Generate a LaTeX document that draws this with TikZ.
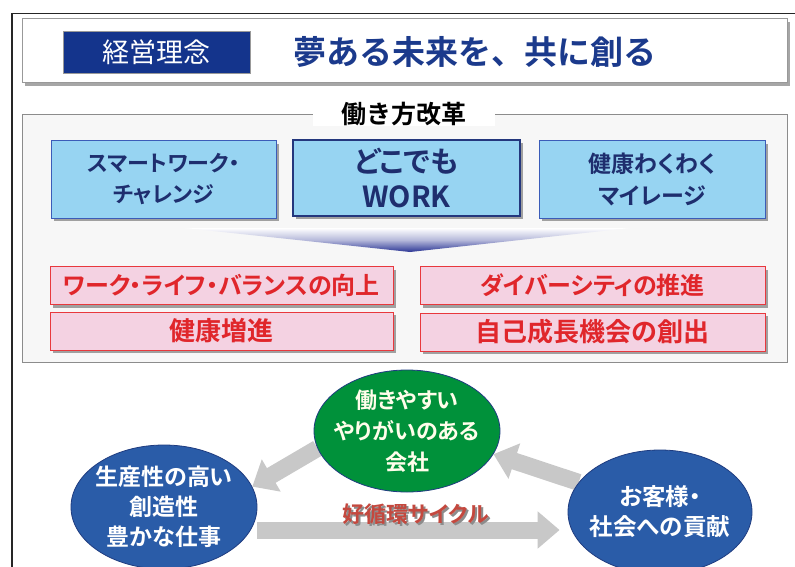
\documentclass[tikz,border=0pt]{standalone}
\usepackage{fontspec}
\setmainfont{Noto Sans CJK JP}[BoldFont=Noto Sans CJK JP Bold]
\newfontfamily\pfont{Noto Sans CJK JP}[BoldFont=Noto Sans CJK JP Bold, RawFeature=+palt]
\usetikzlibrary{shadows,arrows.meta,backgrounds,shapes.geometric}
\definecolor{navybox}{HTML}{14348C}
\definecolor{titleblue}{HTML}{1B3A8C}
\definecolor{lblue}{HTML}{97D4F2}
\definecolor{lblueedge}{HTML}{3B5CB8}
\definecolor{lbluetext}{HTML}{1E2E6E}
\definecolor{pinkfill}{HTML}{F4D2E2}
\definecolor{pinkedge}{HTML}{E8383D}
\definecolor{pinktext}{HTML}{E0262B}
\definecolor{greenell}{HTML}{00913A}
\definecolor{blueell}{HTML}{2A5CA8}
\definecolor{elledge}{HTML}{1F3C80}
\definecolor{arrgray}{HTML}{C8C8C8}
\definecolor{cyctext}{HTML}{C4483E}
\definecolor{wedgeblue}{HTML}{2B3595}
\tikzset{
  shad/.style={drop shadow={shadow xshift=3pt, shadow yshift=-3pt, fill=black, opacity=0.35}},
  bluebox/.style={draw=lblueedge, line width=1pt, fill=lblue, text=lbluetext, font=\pfont\bfseries\fontsize{22}{31}\selectfont, align=center, inner sep=0pt, shad},
  pinkbox/.style={draw=pinkedge, line width=1pt, fill=pinkfill, text=pinktext, font=\pfont\bfseries\fontsize{24}{28}\selectfont, inner sep=0pt, minimum height=38pt, shad},
  ell/.style={ellipse, draw=elledge, line width=0.8pt, inner sep=-14pt, align=center, text=white, font=\pfont\bfseries\fontsize{23}{30}\selectfont},
  cyc/.style={draw=arrgray, line width=17pt, -{Triangle[width=36pt,length=22pt]}}
}
\begin{document}
\begin{tikzpicture}[x=1pt,y=-1pt]
\useasboundingbox (0,0) rectangle (795,567);
% outer frame
\draw[line width=1.5pt, black!85] (12,567) -- (12,13.5) -- (795,13.5);
% banner
\node[draw=black!40, line width=1pt, fill=white, minimum width=765pt, minimum height=64pt, inner sep=0pt, shad] (banner) at (404.5,51) {};
\node[draw=black!40, fill=navybox, minimum width=187pt, minimum height=42pt, inner sep=0pt, text=white, font=\fontsize{27}{30}\selectfont] (rinen) at (156.5,52) {経営理念};
\node[text=titleblue, font=\bfseries\fontsize{33}{36}\selectfont, inner sep=0pt] (title) at (474.5,52) {夢ある未来を、共に創る};
% reform box
\node[draw=black!45, line width=0.8pt, fill=black!3, minimum width=765pt, minimum height=248pt, inner sep=0pt] (reform) at (404.5,238) {};
\node[fill=white, minimum width=182pt, minimum height=24pt, inner sep=0pt, font=\bfseries\fontsize{25}{27}\selectfont] (reformlabel) at (404,114) {働き方改革};
% blue boxes
\node[bluebox, minimum width=225pt, minimum height=77pt] (b1) at (163.5,179.5) {スマートワーク・\\チャレンジ};
\node[bluebox, draw=lbluetext!80!lblueedge, line width=1.6pt, minimum width=227pt, minimum height=76pt, font=\pfont\bfseries\fontsize{29}{35}\selectfont] (b2) at (406.5,178) {どこでも\\WORK};
\node[bluebox, minimum width=226pt, minimum height=77pt, font=\pfont\bfseries\fontsize{23}{32}\selectfont] (b3) at (652,179.5) {健康わくわく\\マイレージ};
% wedge
\shade[top color=white, bottom color=wedgeblue, middle color=wedgeblue!35] (185,228) -- (630,228) -- (410,252) -- cycle;
% pink boxes
\node[pinkbox, minimum width=343pt] (p1) at (221.5,285.5) {ワーク・ライフ・バランスの向上};
\node[pinkbox, minimum width=343pt, font=\pfont\bfseries\fontsize{26}{28}\selectfont] (p2) at (221.5,331) {健康増進};
\node[pinkbox, minimum width=345pt] (p3) at (592.5,285.5) {ダイバーシティの推進};
\node[pinkbox, minimum width=345pt, font=\pfont\bfseries\fontsize{26}{28}\selectfont] (p4) at (592.5,332) {自己成長機会の創出};
% ellipses
\node[ell, fill=greenell, text=yellow!8, minimum width=186pt, minimum height=122pt, font=\pfont\bfseries\fontsize{22}{31}\selectfont] (green) at (407,431) {働きやすい\\やりがいのある\\会社};
\node[ell, fill=blueell, minimum width=186pt, minimum height=124pt] (left) at (164,507) {生産性の高い\\創造性\\豊かな仕事};
\node[ell, fill=blueell, minimum width=184pt, minimum height=124pt, font=\pfont\bfseries\fontsize{23.5}{30}\selectfont] (right) at (660,512) {お客様・\\社会への貢献};
% arrows
\begin{scope}[on background layer]
\fill[white] (0,0) rectangle (795,567);
\draw[cyc] (green.191) -- (left.13);
\draw[cyc] (right.160) -- (green.345);
\draw[cyc] ([yshift=-23pt]left.east) -- ([xshift=-8pt,yshift=-18pt]right.west);
\end{scope}
\node[text=cyctext, font=\pfont\bfseries\fontsize{22}{26}\selectfont, inner sep=0pt] (cyclabel) at (415.5,515.5) {\makebox[0pt][l]{\hspace{2pt}\raisebox{-2pt}{\color{black!45}好循環サイクル}}好循環サイクル};
\end{tikzpicture}
\end{document}
